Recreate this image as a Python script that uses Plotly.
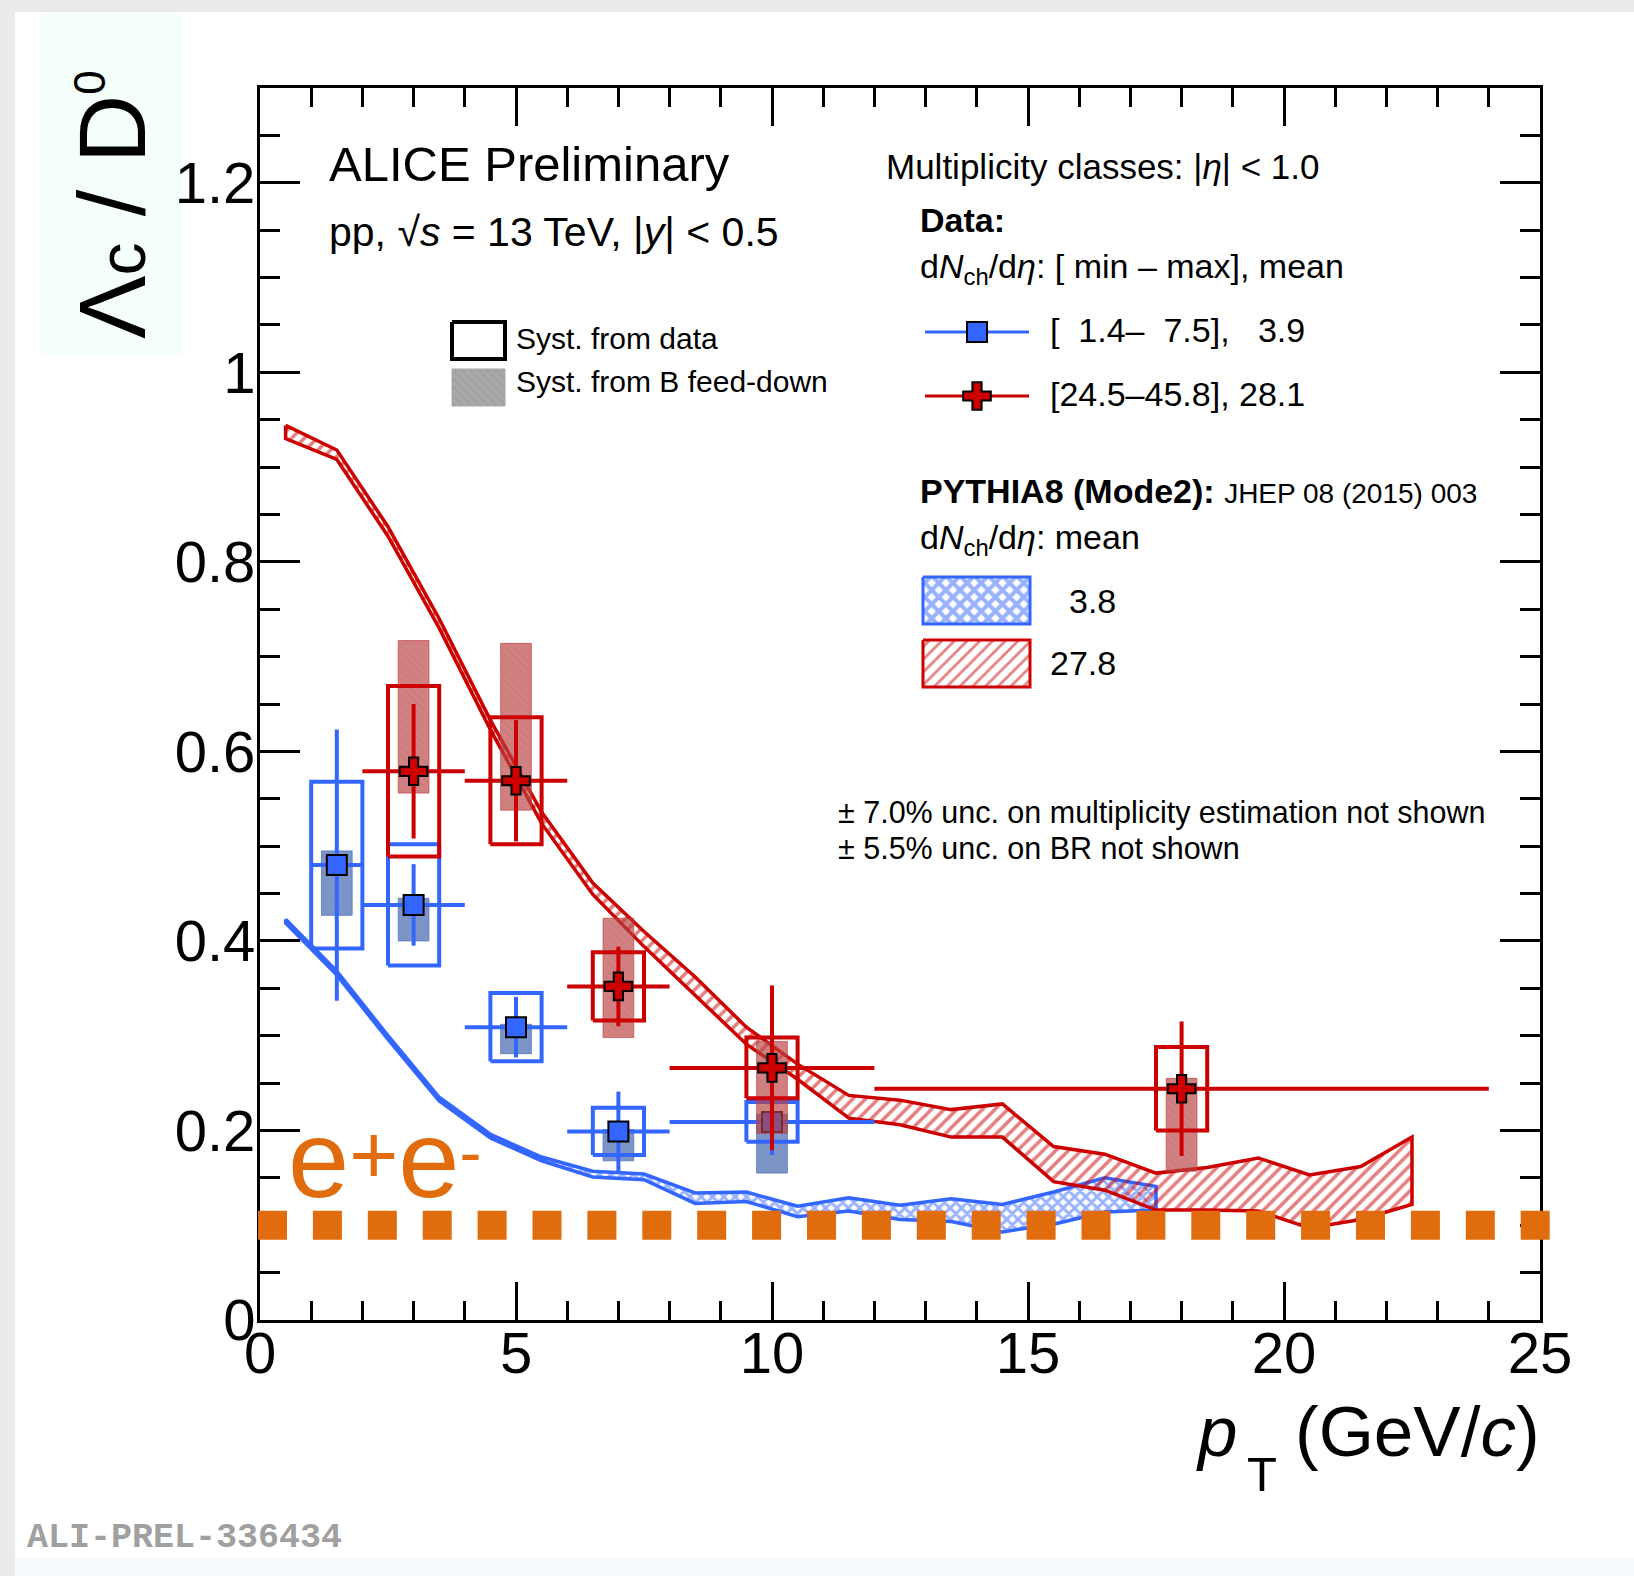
import plotly.graph_objects as go

# ---------------- data ----------------
# Data, low multiplicity class  dNch/deta in [1.4-7.5], mean 3.9
low_pt = [1.5, 3.0, 5.0, 7.0, 10.0]
low_pt_min = [1.0, 2.0, 4.0, 6.0, 8.0]
low_pt_max = [2.0, 4.0, 6.0, 8.0, 12.0]
low_ratio = [0.480, 0.438, 0.309, 0.199, 0.209]
low_stat = [0.143, 0.043, 0.032, 0.042, 0.035]
low_syst = [0.088, 0.064, 0.036, 0.025, 0.021]
low_fd_down = [0.053, 0.038, 0.028, 0.031, 0.054]
low_fd_up = [0.015, 0.007, 0.003, 0.002, 0.008]

# Data, high multiplicity class  dNch/deta in [24.5-45.8], mean 28.1
high_pt = [3.0, 5.0, 7.0, 10.0, 18.0]
high_pt_min = [2.0, 4.0, 6.0, 8.0, 12.0]
high_pt_max = [4.0, 6.0, 8.0, 12.0, 24.0]
high_ratio = [0.579, 0.569, 0.352, 0.266, 0.244]
high_stat = [0.071, 0.064, 0.042, 0.087, 0.071]
high_syst = [0.090, 0.067, 0.036, 0.032, 0.044]
high_fd_down = [0.023, 0.031, 0.054, 0.069, 0.087]
high_fd_up = [0.138, 0.145, 0.072, 0.028, 0.011]

# PYTHIA8 (Mode2), mean dNch/deta 3.8
pyth_low_pt = [0.5, 1.5, 2.5, 3.5, 4.5, 5.5, 6.5, 7.5, 8.5, 9.5, 10.5, 11.5,
               12.5, 13.5, 14.5, 15.5, 16.5, 17.5]
pyth_low_upper = [0.423, 0.368, 0.300, 0.235, 0.196, 0.172, 0.157, 0.154, 0.134,
                  0.135, 0.120, 0.129, 0.121, 0.128, 0.122, 0.135, 0.150, 0.141]
pyth_low_lower = [0.419, 0.364, 0.296, 0.231, 0.192, 0.168, 0.151, 0.148, 0.123,
                  0.125, 0.109, 0.115, 0.106, 0.104, 0.093, 0.101, 0.114, 0.116]

# PYTHIA8 (Mode2), mean dNch/deta 27.8
pyth_high_pt = [0.5, 1.5, 2.5, 3.5, 4.5, 5.5, 6.5, 7.5, 8.5, 9.5, 10.5, 11.5,
                12.5, 13.5, 14.5, 15.5, 16.5, 17.5, 18.5, 19.5, 20.5, 21.5, 22.5]
pyth_high_upper = [0.944, 0.918, 0.837, 0.740, 0.633, 0.536, 0.461, 0.410, 0.362,
                   0.309, 0.270, 0.237, 0.232, 0.222, 0.228, 0.183, 0.175, 0.155,
                   0.161, 0.171, 0.153, 0.162, 0.193]
pyth_high_lower = [0.930, 0.908, 0.827, 0.730, 0.623, 0.524, 0.449, 0.394, 0.342,
                   0.291, 0.254, 0.213, 0.206, 0.193, 0.193, 0.146, 0.137, 0.116,
                   0.116, 0.115, 0.097, 0.106, 0.122]

# e+e- reference value
ee_ratio = 0.1

x_tick_values = [0, 5, 10, 15, 20, 25]
x_tick_labels = ["0", "5", "10", "15", "20", "25"]
y_tick_values = [0, 0.2, 0.4, 0.6, 0.8, 1.0, 1.2]
y_tick_labels = ["0", "0.2", "0.4", "0.6", "0.8", "1", "1.2"]

# ---------------- style ----------------
BLUE = "#3366ff"
RED = "#cc0000"
ORANGE = "#e06c0e"
FONT = "Liberation Sans, Arial, Helvetica, sans-serif"
SYST_HALF = 0.5
FD_HALF = 0.3

W, H = 1634, 1576
L, T, PW, PH = 260, 88, 1280, 1232


def fx(px):
    return (px - L) / PW


def fy(py):
    return (T + PH - py) / PH


def boxes(xs, lows, highs, half):
    X, Y = [], []
    for x, lo, hi in zip(xs, lows, highs):
        X += [x - half, x + half, x + half, x - half, x - half, None]
        Y += [lo, lo, hi, hi, lo, None]
    return X, Y


def band(xs, lo, hi):
    return xs + xs[::-1] + [xs[0]], hi + lo[::-1] + [hi[0]]


fig = go.Figure()

# PYTHIA bands
bx, by = band(pyth_low_pt, pyth_low_lower, pyth_low_upper)
fig.add_trace(go.Scatter(x=bx, y=by, mode="lines", fill="toself",
                         fillcolor="rgba(0,0,0,0)",
                         fillpattern=dict(shape="x", fgcolor=BLUE, bgcolor="rgba(0,0,0,0)",
                                          size=8, solidity=0.6),
                         line=dict(color=BLUE, width=3.5), hoverinfo="skip"))
bx, by = band(pyth_high_pt, pyth_high_lower, pyth_high_upper)
fig.add_trace(go.Scatter(x=bx, y=by, mode="lines", fill="toself",
                         fillcolor="rgba(0,0,0,0)",
                         fillpattern=dict(shape="/", fgcolor=RED, bgcolor="rgba(0,0,0,0)",
                                          size=9, solidity=0.4),
                         line=dict(color=RED, width=3.5), hoverinfo="skip"))


def add_series(pt, ptmin, ptmax, ratio, stat, syst, fd_down, fd_up, color, fdfill, symbol, msize):
    # feed-down boxes
    X, Y = boxes(pt, [r - d for r, d in zip(ratio, fd_down)],
                 [r + u for r, u in zip(ratio, fd_up)], FD_HALF)
    fig.add_trace(go.Scatter(x=X, y=Y, mode="lines", fill="toself", fillcolor=fdfill,
                             fillpattern=dict(shape="\\", fgcolor="rgba(120,120,120,0.35)",
                                              bgcolor=fdfill, size=6, solidity=0.3),
                             line=dict(color=fdfill, width=1), hoverinfo="skip"))
    # data systematic boxes
    X, Y = boxes(pt, [r - s for r, s in zip(ratio, syst)],
                 [r + s for r, s in zip(ratio, syst)], SYST_HALF)
    fig.add_trace(go.Scatter(x=X, y=Y, mode="lines", line=dict(color=color, width=4),
                             hoverinfo="skip"))
    # statistical errors + markers
    fig.add_trace(go.Scatter(
        x=pt, y=ratio, mode="markers",
        marker=dict(symbol=symbol, size=msize, color=color, line=dict(color="black", width=2)),
        error_y=dict(type="data", array=stat, visible=True, thickness=4, width=0, color=color),
        error_x=dict(type="data", array=[b - p for b, p in zip(ptmax, pt)],
                     arrayminus=[p - a for a, p in zip(ptmin, pt)],
                     visible=True, thickness=4, width=0, color=color),
        hoverinfo="skip"))


add_series(low_pt, low_pt_min, low_pt_max, low_ratio, low_stat, low_syst,
           low_fd_down, low_fd_up, BLUE, "rgba(80,115,185,0.75)", "square", 20)
add_series(high_pt, high_pt_min, high_pt_max, high_ratio, high_stat, high_syst,
           high_fd_down, high_fd_up, RED, "rgba(190,60,60,0.65)", "cross", 23)

# ---------------- legend glyphs (overlay axes in plot-fraction units) ----------------
def lg_rect(x0, x1, y0, y1):
    return [fx(x0), fx(x1), fx(x1), fx(x0), fx(x0)], [fy(y0), fy(y0), fy(y1), fy(y1), fy(y0)]


lx, ly = lg_rect(452, 505, 322, 359)
fig.add_trace(go.Scatter(x=lx, y=ly, xaxis="x2", yaxis="y2", mode="lines",
                         line=dict(color="black", width=4), hoverinfo="skip"))
lx, ly = lg_rect(452, 505, 369, 406)
fig.add_trace(go.Scatter(x=lx, y=ly, xaxis="x2", yaxis="y2", mode="lines", fill="toself",
                         fillcolor="#a6a6a6",
                         fillpattern=dict(shape="\\", fgcolor="#b8b8b8", bgcolor="#a3a3a3",
                                          size=6, solidity=0.3),
                         line=dict(color="#a6a6a6", width=1), hoverinfo="skip"))
for yy, col, sym, ms in [(332, BLUE, "square", 20), (396, RED, "cross", 23)]:
    fig.add_trace(go.Scatter(x=[fx(925), fx(1029)], y=[fy(yy), fy(yy)], xaxis="x2", yaxis="y2",
                             mode="lines", line=dict(color=col, width=3), hoverinfo="skip"))
    fig.add_trace(go.Scatter(x=[fx(977)], y=[fy(yy)], xaxis="x2", yaxis="y2", mode="markers",
                             marker=dict(symbol=sym, size=ms, color=col,
                                         line=dict(color="black", width=2)), hoverinfo="skip"))
lx, ly = lg_rect(923, 1030, 577, 624)
fig.add_trace(go.Scatter(x=lx, y=ly, xaxis="x2", yaxis="y2", mode="lines", fill="toself",
                         fillcolor="rgba(0,0,0,0)",
                         fillpattern=dict(shape="x", fgcolor=BLUE, bgcolor="white",
                                          size=10, solidity=0.65),
                         line=dict(color=BLUE, width=3), hoverinfo="skip"))
lx, ly = lg_rect(923, 1030, 640, 687)
fig.add_trace(go.Scatter(x=lx, y=ly, xaxis="x2", yaxis="y2", mode="lines", fill="toself",
                         fillcolor="rgba(0,0,0,0)",
                         fillpattern=dict(shape="/", fgcolor=RED, bgcolor="white",
                                          size=9, solidity=0.3),
                         line=dict(color=RED, width=3), hoverinfo="skip"))

# ---------------- texts ----------------
annotations = []


def text(s, px, baseline, size, anchor="left", color="black", family=FONT, angle=0):
    annotations.append(dict(text=s, x=fx(px), y=fy(baseline - 0.347 * size), xref="paper",
                            yref="paper", xanchor=anchor, yanchor="middle", showarrow=False,
                            textangle=angle, font=dict(size=size, color=color, family=family)))


text("ALICE Preliminary", 327, 181, 49)
text("pp, √<i>s</i> = 13 TeV, |<i>y</i>| < 0.5", 327, 246, 41)
text("Syst. from data", 514, 349, 30)
text("Syst. from B feed-down", 514, 392, 30)
text("Multiplicity classes: |<i>η</i>| < 1.0", 884, 179, 35)
text("<b>Data:</b>", 918, 232, 34)
text("d<i>N</i><sub>ch</sub>/d<i>η</i>: [ min – max], mean", 918, 280, 34)
text("[\u20071.4–\u20077.5], \u20073.9", 1048, 342, 34)
text("[24.5–45.8], 28.1", 1048, 406, 34)
text("<b>PYTHIA8 (Mode2):</b> <span style='font-size:28px'>JHEP 08 (2015) 003</span>",
     918, 503, 34)
text("d<i>N</i><sub>ch</sub>/d<i>η</i>: mean", 918, 551, 34)
text("3.8", 1067, 613, 34)
text("27.8", 1048, 675, 34)
text("± 7.0% unc. on multiplicity estimation not shown", 836, 823, 30.5)
text("± 5.5% unc. on BR not shown", 836, 859, 30.5)
# e+e- label, superscripts only lightly raised as in the reference
text("e<span style='font-size:84px;baseline-shift:14px'>+</span>"
     "e<span style='font-size:66px;baseline-shift:22px'>-</span>",
     286, 1197, 110, color=ORANGE)
text("<b>ALI-PREL-336434</b>", 25, 1550, 35, color="#a0a0a0",
     family="Liberation Mono, Courier New, monospace")

# x-axis title: p_T (GeV/c) with a deep subscript
text("<i>p</i>", 1194, 1456, 71)
text("T", 1245, 1491, 49)
text("(GeV/<i>c</i>)", 1542, 1456, 71, anchor="right")
# y-axis title
annotations.append(dict(text="Λ<span style='font-size:66px'>c</span> / D"
                             "<sup><span style='font-size:44px'>0</span></sup>",
                        x=fx(112), y=fy(205), xref="paper", yref="paper",
                        xanchor="center", yanchor="middle", showarrow=False, textangle=-90,
                        font=dict(size=95, family=FONT, color="black")))

shapes = [
    dict(type="rect", xref="paper", yref="paper", x0=fx(15), x1=fx(W), y0=fy(H), y1=fy(12),
         fillcolor="white", line=dict(width=0), layer="below"),
    dict(type="rect", xref="paper", yref="paper", x0=fx(15), x1=fx(W), y0=fy(H), y1=fy(1558),
         fillcolor="#f5fbff", line=dict(width=0), layer="below"),
    dict(type="rect", xref="paper", yref="paper", x0=fx(40), x1=fx(182), y0=fy(355), y1=fy(13),
         fillcolor="#f4fff9", line=dict(width=0), layer="below"),
    dict(type="line", xref="paper", yref="y", x0=fx(258), x1=fx(1551), y0=ee_ratio, y1=ee_ratio,
         line=dict(color=ORANGE, width=29, dash="29px,25.9px"), layer="above"),
]

axis_common = dict(ticks="inside", tickwidth=2.5, tickcolor="black", showline=True,
                   linecolor="black", linewidth=3, mirror="allticks", showgrid=False,
                   zeroline=False, tickfont=dict(size=58, family=FONT, color="black"))

fig.update_layout(
    width=W, height=H, margin=dict(l=L, r=W - L - PW, t=T, b=H - T - PH, pad=0),
    paper_bgcolor="#ebebeb", plot_bgcolor="white", showlegend=False,
    font=dict(family=FONT, color="black"),
    xaxis=dict(range=[0, 25], tickmode="array", tickvals=x_tick_values, ticktext=x_tick_labels,
               ticklen=38, ticklabelstandoff=-20,
               minor=dict(dtick=1, tick0=0, ticks="inside", ticklen=19, tickwidth=2.5,
                          tickcolor="black", showgrid=False),
               **axis_common),
    yaxis=dict(range=[0, 1.3], tickmode="array", tickvals=y_tick_values, ticktext=y_tick_labels,
               ticklen=40, ticklabelstandoff=-10,
               minor=dict(dtick=0.05, tick0=0, ticks="inside", ticklen=20, tickwidth=2.5,
                          tickcolor="black", showgrid=False),
               **axis_common),
    xaxis2=dict(overlaying="x", anchor="y2", range=[0, 1], visible=False, fixedrange=True),
    yaxis2=dict(overlaying="y", anchor="x2", range=[0, 1], visible=False, fixedrange=True),
    annotations=annotations,
    shapes=shapes,
)

fig.write_html("out.html")
